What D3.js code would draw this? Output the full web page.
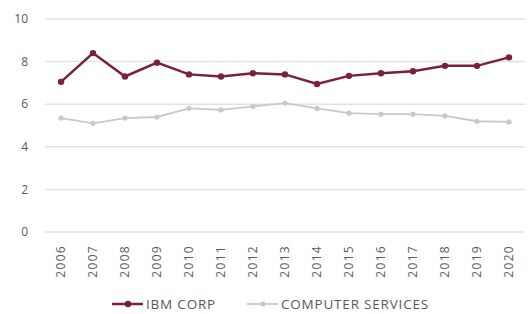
<!DOCTYPE html>
<html>
<head>
<meta charset="utf-8">
<script src="https://cdn.jsdelivr.net/npm/d3@7"></script>
<style>
  body { margin: 0; background: #fff; }
  text { font-family: "Open Sans", "DejaVu Sans", sans-serif; fill: #595959; }
</style>
</head>
<body>
<script>
var width = 528,
    height = 314;

// data
var years = ["2006", "2007", "2008", "2009", "2010", "2011", "2012", "2013", "2014", "2015", "2016", "2017", "2018", "2019", "2020"];
var ibm = [7.05, 8.4, 7.3, 7.95, 7.4, 7.3, 7.45, 7.4, 6.95, 7.33, 7.45, 7.55, 7.8, 7.8, 8.2];
var computerServices = [5.35, 5.1, 5.35, 5.4, 5.8, 5.73, 5.9, 6.05, 5.8, 5.58, 5.53, 5.53, 5.45, 5.2, 5.17];
var yTicks = [0, 2, 4, 6, 8, 10];
var seriesNames = ["IBM CORP", "COMPUTER SERVICES"];
var seriesColors = ["#7a1f3d", "#c9c9c9"];

var margin = { top: 19, right: 3, bottom: 82, left: 45 };

var svg = d3.select("body")
    .append("svg")
    .attr("width", width)
    .attr("height", height);

var x = d3.scaleBand()
    .domain(years)
    .range([margin.left, width - margin.right]);

var y = d3.scaleLinear()
    .domain([0, 10])
    .range([height - margin.bottom, margin.top]);

// gridlines
svg.append("g")
    .selectAll("line")
    .data(yTicks)
    .enter().append("line")
    .attr("x1", margin.left)
    .attr("x2", width - margin.right)
    .attr("y1", function (d) { return y(d); })
    .attr("y2", function (d) { return y(d); })
    .style("stroke", "#e3e3e3")
    .style("stroke-width", 1.5);

// y labels
svg.append("g")
    .selectAll("text")
    .data(yTicks)
    .enter().append("text")
    .attr("x", 28)
    .attr("y", function (d) { return y(d); })
    .attr("dy", "0.35em")
    .attr("text-anchor", "end")
    .style("font-size", "12px")
    .text(function (d) { return d; });

// x labels, rotated
svg.append("g")
    .selectAll("text")
    .data(years)
    .enter().append("text")
    .attr("transform", function (d) {
        return "translate(" + (x(d) + x.bandwidth() / 2) + "," + 245 + ") rotate(-90)";
    })
    .attr("dy", "0.35em")
    .attr("text-anchor", "end")
    .style("font-size", "12px")
    .style("letter-spacing", "1.3px")
    .text(function (d) { return d; });

var line = d3.line()
    .x(function (d, i) { return x(years[i]) + x.bandwidth() / 2; })
    .y(function (d) { return y(d); });

var series = [ibm, computerServices];

// draw grey first so the maroon sits on top
[1, 0].forEach(function (k) {
    var g = svg.append("g");
    g.append("path")
        .datum(series[k])
        .attr("d", line)
        .style("fill", "none")
        .style("stroke", seriesColors[k])
        .style("stroke-width", k === 0 ? 2.5 : 1.8);
    g.selectAll("circle")
        .data(series[k])
        .enter().append("circle")
        .attr("cx", function (d, i) { return x(years[i]) + x.bandwidth() / 2; })
        .attr("cy", function (d) { return y(d); })
        .attr("r", k === 0 ? 3.2 : 2.6)
        .style("fill", seriesColors[k]);
});

// legend
var legendX = [112, 247];
seriesNames.forEach(function (name, k) {
    var lg = svg.append("g")
        .attr("transform", "translate(" + legendX[k] + ",304)");
    lg.append("line")
        .attr("x1", 0).attr("x2", 31)
        .style("stroke", seriesColors[k])
        .style("stroke-width", k === 0 ? 2.5 : 1.8);
    lg.append("circle")
        .attr("cx", 16)
        .attr("r", k === 0 ? 3.2 : 2.6)
        .style("fill", seriesColors[k]);
    lg.append("text")
        .attr("x", 34)
        .attr("dy", "0.35em")
        .style("font-size", "13.5px")
        .style("letter-spacing", "0.8px")
        .text(name);
});
</script>
</body>
</html>
